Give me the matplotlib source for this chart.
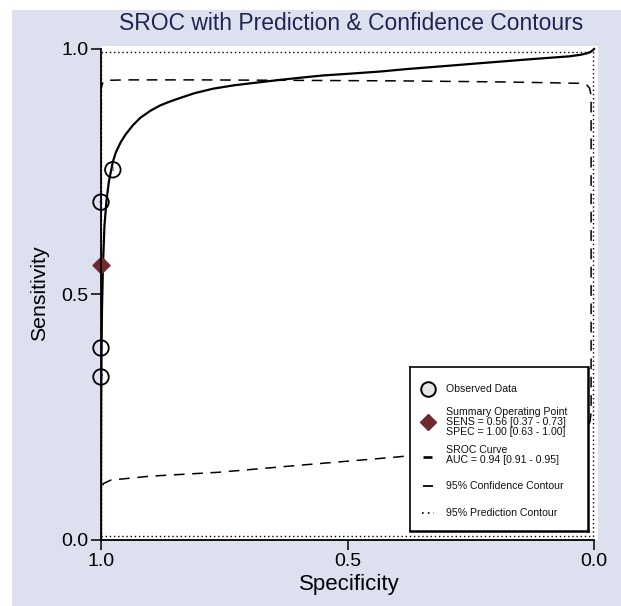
import matplotlib
matplotlib.use("Agg")
import matplotlib.pyplot as plt
from matplotlib.patches import Rectangle

plt.rcParams['font.family'] = ['Liberation Sans', 'DejaVu Sans']

# ---- data ----
study_spec = [1.00, 1.00, 0.976, 1.00]
study_sens = [0.391, 0.332, 0.754, 0.688]
study_ids = ["1", "2", "3", "4"]

summary_spec = 1.00
summary_sens = 0.56

# SROC curve (specificity, sensitivity)
sroc_spec = [1.0, 0.9999, 0.9998, 0.9995, 0.999, 0.998, 0.996, 0.993, 0.989, 0.984,
             0.976, 0.97, 0.96, 0.95, 0.935, 0.92, 0.90, 0.88, 0.86, 0.84,
             0.81, 0.773, 0.73, 0.68, 0.637, 0.59, 0.55, 0.49, 0.434, 0.38,
             0.33, 0.28, 0.231, 0.18, 0.13, 0.09, 0.05, 0.028, 0.015, 0.007,
             0.003, 0.0]
sroc_sens = [0.0, 0.14, 0.20, 0.30, 0.38, 0.47, 0.56, 0.64, 0.69, 0.73,
             0.77, 0.789, 0.81, 0.826, 0.845, 0.860, 0.874, 0.885, 0.893, 0.900,
             0.910, 0.919, 0.926, 0.932, 0.937, 0.942, 0.946, 0.950, 0.954, 0.959,
             0.963, 0.967, 0.971, 0.975, 0.979, 0.982, 0.985, 0.988, 0.991, 0.994,
             0.997, 1.0]

# 95% confidence contour outline (specificity, sensitivity)
conf_spec = [0.9995, 0.9995, 0.997, 0.99, 0.95, 0.8, 0.6, 0.4, 0.2, 0.08, 0.03, 0.015,
             0.009, 0.006, 0.006, 0.006, 0.008, 0.012, 0.02, 0.05, 0.2, 0.4, 0.6,
             0.76, 0.9, 0.98, 0.995, 0.9995, 0.9995]
conf_sens = [0.50, 0.92, 0.93, 0.936, 0.937, 0.937, 0.936, 0.935, 0.933, 0.931, 0.930, 0.927,
             0.920, 0.905, 0.60, 0.26, 0.242, 0.232, 0.224, 0.21, 0.19, 0.169, 0.152,
             0.138, 0.130, 0.122, 0.115, 0.105, 0.50]

# 95% prediction contour outline
pred_spec = [0.999, 0.003, 0.003, 0.999, 0.999]
pred_sens = [0.994, 0.994, 0.008, 0.008, 0.994]

legend_labels = [["Observed Data"],
                 ["Summary Operating Point", "SENS = 0.56 [0.37 - 0.73]",
                  "SPEC = 1.00 [0.63 - 1.00]"],
                 ["SROC Curve", "AUC = 0.94 [0.91 - 0.95]"],
                 ["95% Confidence Contour"],
                 ["95% Prediction Contour"]]

# ---- figure ----
BG = "#dde1ef"
DOT = (0, (1, 2))
DASH = (0, (7, 5))
fig = plt.figure(figsize=(6.21, 6.06), dpi=100, facecolor=BG)
fig.patches.append(Rectangle((0, 1 - 10 / 606), 1, 10 / 606, transform=fig.transFigure,
                             facecolor="white", edgecolor="none", zorder=0))
fig.patches.append(Rectangle((0, 0), 12 / 621, 1, transform=fig.transFigure,
                             facecolor="white", edgecolor="none", zorder=0))

ax = fig.add_axes([101 / 621, 66 / 606, 497 / 621, 494 / 606])
ax.set_facecolor("white")
ax.set_xlim(1.0, -0.008)
ax.set_ylim(0.0, 1.006)

ax.plot(pred_spec, pred_sens, color="black", lw=1.0, linestyle=DOT, zorder=2)
ax.plot(conf_spec, conf_sens, color="black", lw=1.1, linestyle=DASH, zorder=2)
ax.plot(sroc_spec, sroc_sens, color="black", lw=1.6, zorder=3)

ax.scatter(study_spec, study_sens, s=125, facecolors="none", edgecolors="black",
           linewidths=1.3, zorder=4, clip_on=False)
for x, y, t in zip(study_spec, study_sens, study_ids):
    ax.text(x, y, t, fontsize=4.5, ha="center", va="center", color="#333333", zorder=5)
ax.scatter([summary_spec], [summary_sens], marker="D", s=75, color="#6e2a2e",
           zorder=5, clip_on=False)

for s in ["top", "right"]:
    ax.spines[s].set_visible(False)
for s in ["left", "bottom"]:
    ax.spines[s].set_linewidth(1.3)
    ax.spines[s].set_bounds(0, 1)
ax.spines["left"].set_zorder(6)

ax.set_xticks([1.0, 0.5, 0.0])
ax.set_xticklabels(["1.0", "0.5", "0.0"])
ax.set_yticks([0.0, 0.5, 1.0])
ax.set_yticklabels(["0.0", "0.5", "1.0"])
ax.tick_params(axis="both", length=7, width=1.1, labelsize=14, direction="out", pad=2)

ax.set_xlabel("Specificity", fontsize=16, labelpad=3)
ax.set_ylabel("Sensitivity", fontsize=15.3, labelpad=9)
fig.text(351 / 621, 1 - 23 / 606, "SROC with Prediction & Confidence Contours",
         fontsize=16.5, color="#1f2550", ha="center", va="center")

# ---- legend box (drawn in its own pixel-unit axes) ----
lax = fig.add_axes([410 / 621, (606 - 531) / 606, 178 / 621, 164 / 606])
lax.set_xlim(0, 178)
lax.set_ylim(164, 0)
lax.set_facecolor("white")
lax.set_xticks([])
lax.set_yticks([])
for s in lax.spines.values():
    s.set_linewidth(1.2)
    s.set_color("black")
for s in ["right", "bottom"]:
    lax.spines[s].set_linewidth(1.8)

hx = 18
tx = 36
line_h = 9.6
entry_y = [22, 55, 88, 119, 146]
lax.plot([hx], [entry_y[0]], marker="o", markersize=10.5, markerfacecolor="#e6e6e6",
         markeredgecolor="black", markeredgewidth=1.4)
lax.plot([hx], [entry_y[1]], marker="D", markersize=8.5, color="#6e2a2e")
lax.plot([hx - 5, hx + 4], [entry_y[2] + 2, entry_y[2] + 2], color="black", lw=1.9,
         solid_capstyle="butt")
lax.plot([hx - 5, hx + 5], [entry_y[3], entry_y[3]], color="black", lw=1.3,
         solid_capstyle="butt")
lax.plot([hx - 6, hx + 6], [entry_y[4], entry_y[4]], color="black", lw=1.2, linestyle=(0, (1, 2.5)))

for cy, lines in zip(entry_y, legend_labels):
    n = len(lines)
    y0 = cy - (n - 1) * line_h / 2
    for i, ln in enumerate(lines):
        lax.text(tx, y0 + i * line_h, ln, fontsize=7.6, ha="left", va="center",
                 color="#111111")

fig.savefig("out.png", dpi=100, facecolor=BG)
